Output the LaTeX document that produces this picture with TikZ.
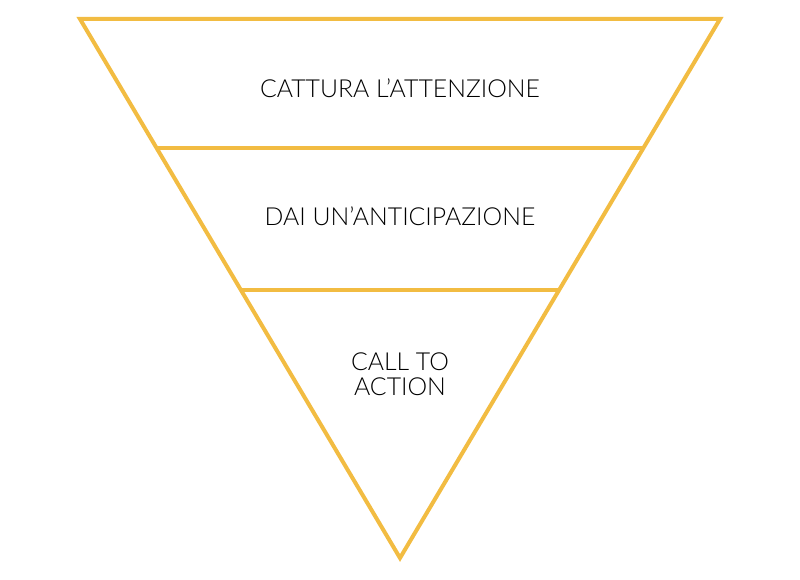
\documentclass[tikz,border=0pt]{standalone}
\usepackage{fontspec}
\setmainfont{Lato Light}
\usepackage{xcolor}
\usetikzlibrary{calc}
\definecolor{funnel}{HTML}{F2BC42}

\begin{document}
\begin{tikzpicture}[
x=1pt,y=-1pt,
edge/.style={draw=funnel,line width=4pt},
label/.style={align=center,font=\fontsize{24.8}{24.5}\selectfont,text=black,inner sep=0pt},
]
\useasboundingbox (0,0) rectangle (800,580);
\coordinate (tl) at (80,19);
\coordinate (tr) at (720,19);
\coordinate (apex) at (400,558);
\coordinate (l1) at ($(tl)!0.2393!(apex)$);
\coordinate (r1) at ($(tr)!0.2393!(apex)$);
\coordinate (l2) at ($(tl)!0.5028!(apex)$);
\coordinate (r2) at ($(tr)!0.5028!(apex)$);
\draw[edge] (tl) -- (tr) -- (apex) -- cycle;
\draw[edge] (l1) -- (r1);
\draw[edge] (l2) -- (r2);
\node[label] (attention) at (400,88) {CATTURA L’ATTENZIONE};
\node[label] (preview) at (400,216) {DAI UN’ANTICIPAZIONE};
\node[label] (action) at (400,374) {CALL TO\\ACTION};
\end{tikzpicture}
\end{document}
